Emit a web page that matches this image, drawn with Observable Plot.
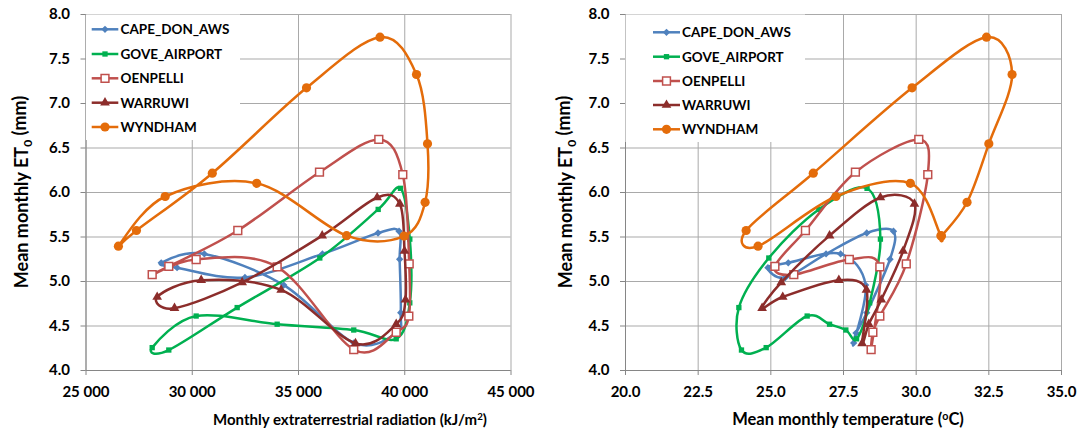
<!DOCTYPE html>
<html><head><meta charset="utf-8">
<script src="https://cdn.jsdelivr.net/npm/d3@7"></script>
<script src="https://cdn.jsdelivr.net/npm/@observablehq/plot@0.6"></script>
<style>
body{margin:0;background:#fff;}
#chart{position:relative;width:1081px;height:433px;font-family:Lato,sans-serif;}
#chart svg{position:absolute;top:0;overflow:visible;}
</style></head><body><div id="chart"></div>
<script>
// ---- data (Jan..Dec) ----
const months = ["Jan","Feb","Mar","Apr","May","Jun","Jul","Aug","Sep","Oct","Nov","Dec"];
const stationNames = ["CAPE_DON_AWS","GOVE_AIRPORT","OENPELLI","WARRUWI","WYNDHAM"];

const capeDonRadiation = [39811,39600,37608,34308,30570,28540,29285,32480,36125,38742,39733,39760];
const capeDonTemperature = [28.3,27.93,27.85,28.26,27.4,25.6,24.9,25.5,26.9,28.3,29.22,29.1];
const capeDonEt0 = [4.65,4.42,4.31,4.96,5.31,5.21,5.155,5.045,5.31,5.545,5.565,5.25];

const goveRadiation = [40238,39598,37600,33996,30184,28115,28896,32114,36002,38750,39800,40238];
const goveTemperature = [28.4,27.95,27.58,27.02,26.25,24.84,23.99,23.9,24.93,26.65,28.31,28.77];
const goveEt0 = [4.76,4.356,4.455,4.52,4.612,4.257,4.23,4.707,5.264,5.81,6.047,5.476];

const oenpelliRadiation = [40192,39598,37600,33996,30184,28115,28896,32144,35988,38779,39908,40209];
const oenpelliTemperature = [28.75,28.51,28.45,28.75,27.7,25.79,25.14,26.19,27.91,30.09,30.4,29.66];
const oenpelliEt0 = [4.61,4.43,4.235,5.165,5.247,5.077,5.169,5.573,6.228,6.596,6.2,5.199];

const warruwiRadiation = [40035,39598,37682,34184,30421,28350,29165,32349,36115,38702,39769,39988];
const warruwiTemperature = [28.8,28.37,28.14,28.29,27.34,25.41,24.7,25.36,27.02,28.77,29.94,29.55];
const warruwiEt0 = [4.795,4.52,4.305,4.905,5.015,4.826,4.70,4.99,5.515,5.944,5.872,5.343];

const wyndhamRadiation = [40958,39969,37264,33033,28726,26525,27374,30943,35377,38835,40552,41071];
const wyndhamTemperature = [31.75,30.87,30.85,29.8,27.24,24.56,24.15,26.46,29.86,32.42,33.3,32.5];
const wyndhamEt0 = [5.89,5.51,5.515,6.103,5.955,5.397,5.573,6.217,7.176,7.745,7.326,6.547];

const radiationTicks = [25000,30000,35000,40000,45000];
const temperatureTicks = [20,22.5,25,27.5,30,32.5,35];
const et0Ticks = [4,4.5,5,5.5,6,6.5,7,7.5,8];

// ---- table built from the arrays ----
const seriesArrays = [
  [capeDonRadiation, capeDonTemperature, capeDonEt0],
  [goveRadiation, goveTemperature, goveEt0],
  [oenpelliRadiation, oenpelliTemperature, oenpelliEt0],
  [warruwiRadiation, warruwiTemperature, warruwiEt0],
  [wyndhamRadiation, wyndhamTemperature, wyndhamEt0]
];
const rows = stationNames.flatMap((name, k) => months.map((m, i) => ({
  station: name, month: m,
  rad: seriesArrays[k][0][i], temp: seriesArrays[k][1][i], et0: seriesArrays[k][2][i]
})));

// ---- styles ----
const styles = {
  CAPE_DON_AWS: {color:"#4F81BD", symbol:"diamond2", r:3.3, fill:"#4F81BD", sw:0},
  GOVE_AIRPORT: {color:"#00B050", symbol:"square", r:3.0, fill:"#00B050", sw:0},
  OENPELLI: {color:"#C0504D", symbol:"square", r:4.4, fill:"#ffffff", sw:1.5},
  WARRUWI: {color:"#8C2D2B", symbol:"triangle", r:3.6, fill:"#8C2D2B", sw:0},
  WYNDHAM: {color:"#E46C0A", symbol:"circle", r:4.6, fill:"#E46C0A", sw:0}
};
const symbolMap = {diamond2: d3.symbolDiamond2, square: d3.symbolSquare, triangle: d3.symbolTriangle, circle: d3.symbolCircle};

const gridColor = "#a9a9a9", axisColor = "#868686";
const H = 433, mTop = 14, mBottom = 63;

function panel({xKey, xDomain, xTicks, xFormat, width, left, mLeft, mRight, xTitle, legend, yTitleX}) {
  const marks = [
    Plot.ruleX(xTicks, {stroke: gridColor, strokeWidth: 1}),
    Plot.ruleY(et0Ticks, {stroke: gridColor, strokeWidth: 1}),
    Plot.ruleX([xDomain[0]], {stroke: axisColor, strokeWidth: 1}),
    Plot.ruleY([4], {stroke: axisColor, strokeWidth: 1}),
    Plot.axisX({ticks: xTicks, tickFormat: xFormat, tickSize: 5, tickPadding: 11, stroke: axisColor, fill: "#000"}),
    Plot.axisY({ticks: et0Ticks, tickFormat: ".1f", tickSize: 5, tickPadding: 11, stroke: axisColor, fill: "#000"})
  ];
  for (const name of stationNames) {
    const s = styles[name];
    const data = rows.filter(d => d.station === name);
    marks.push(Plot.line(data, {x: xKey, y: "et0", curve: "cardinal-closed", tension: 0, stroke: s.color, strokeWidth: 2.5}));
    marks.push(Plot.dot(data, {x: xKey, y: "et0", symbol: s.symbol, r: s.r, fill: s.fill, stroke: s.sw ? s.color : "none", strokeWidth: s.sw}));
  }
  const svg = Plot.plot({
    width, height: H, marginLeft: mLeft, marginRight: mRight, marginTop: mTop, marginBottom: mBottom,
    style: {fontFamily: "Lato, sans-serif", fontSize: "15px", fontWeight: "bold", color: "#000", background: "none", overflow: "visible"},
    x: {domain: xDomain, label: null},
    y: {domain: [4, 8], label: null},
    marks
  });
  svg.style.left = left + "px";
  const g = d3.select(svg);

  // legend
  const lg = g.append("g").attr("font-size", 13.5).attr("font-weight", "bold").attr("font-family", "Lato, sans-serif").attr("text-anchor", "start");
  lg.append("rect").attr("x", legend.x0).attr("y", legend.y0).attr("width", legend.x1 - legend.x0).attr("height", legend.y1 - legend.y0).attr("fill", "#fff");
  stationNames.forEach((name, i) => {
    const s = styles[name];
    const y = legend.rows[i];
    lg.append("line").attr("x1", legend.lx0).attr("x2", legend.lx1).attr("y1", y).attr("y2", y).attr("stroke", s.color).attr("stroke-width", 2.5);
    lg.append("path").attr("transform", `translate(${(legend.lx0 + legend.lx1) / 2},${y})`)
      .attr("d", d3.symbol(symbolMap[s.symbol], Math.PI * s.r * s.r)())
      .attr("fill", s.fill).attr("stroke", s.sw ? s.color : "none").attr("stroke-width", s.sw);
    lg.append("text").attr("x", legend.tx).attr("y", y).attr("dy", "0.36em").attr("fill", "#000").text(name);
  });

  // axis titles
  const xt = g.append("text").attr("x", xTitle.x).attr("y", 425).attr("text-anchor", "middle")
    .attr("font-size", xTitle.size).attr("font-weight", "bold").attr("fill", "#000");
  xTitle.parts.forEach(p => {
    const t = xt.append("tspan").text(p.t);
    if (p.sup) t.attr("font-size", xTitle.size * 0.65).attr("dy", "-0.5em");
    else if (p.after) t.attr("dy", "0.33em");
  });
  const yt = g.append("text").attr("transform", `translate(${yTitleX},192) rotate(-90)`).attr("text-anchor", "middle")
    .attr("font-size", 18).attr("font-weight", "bold").attr("fill", "#000");
  yt.append("tspan").text("Mean monthly ET");
  yt.append("tspan").text("0").attr("font-size", 12).attr("dy", "0.35em");
  yt.append("tspan").text(" (mm)").attr("dy", "-0.35em");
  return svg;
}

const chart = document.getElementById("chart");
chart.appendChild(panel({
  xKey: "rad", xDomain: [25000, 45000], xTicks: radiationTicks,
  xFormat: d => d3.format(",")(d).replace(/,/g, " "),
  width: 540, left: 0, mLeft: 85.5, mRight: 29.5,
  xTitle: {x: 350, size: 15, parts: [{t: "Monthly extraterrestrial radiation (kJ/m"}, {t: "2", sup: true}, {t: ")", after: true}]},
  legend: {x0: 86, y0: 14.5, x1: 240, y1: 140, rows: [29.3, 54, 78.3, 102.7, 127], lx0: 91.7, lx1: 118.3, tx: 120.5},
  yTitleX: 28
}));
chart.appendChild(panel({
  xKey: "temp", xDomain: [20, 35], xTicks: temperatureTicks,
  xFormat: d => d3.format(".1f")(d),
  width: 541, left: 540, mLeft: 85, mRight: 20,
  xTitle: {x: 308, size: 16.5, parts: [{t: "Mean monthly temperature ("}, {t: "o", sup: true}, {t: "C)", after: true}]},
  legend: {x0: 85.5, y0: 14.5, x1: 265, y1: 142, rows: [32.3, 56.7, 81, 105, 129.3], lx0: 113, lx1: 140, tx: 142},
  yTitleX: 32
}));
</script></body></html>
